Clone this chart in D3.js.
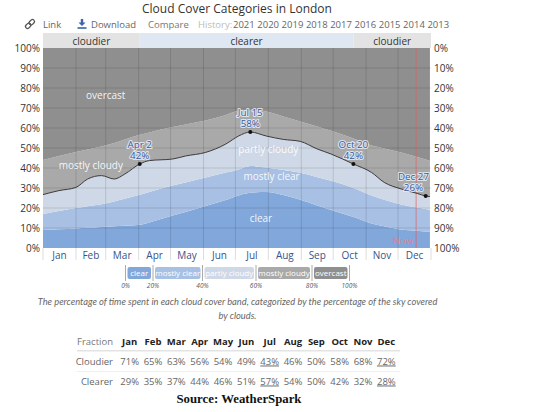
<!DOCTYPE html>
<html>
<head>
<meta charset="utf-8">
<script src="https://cdn.jsdelivr.net/npm/d3@7"></script>
<style>
  html, body { margin: 0; padding: 0; background: #fff; }
  svg { display: block; font-family: "Open Sans", "Noto Sans", sans-serif; }
</style>
</head>
<body>
<svg id="chart" width="540" height="412"></svg>
<script>
// ---------------- DATA ----------------
const months = ["Jan","Feb","Mar","Apr","May","Jun","Jul","Aug","Sep","Oct","Nov","Dec"];
const historyYears = ["2021","2020","2019","2018","2017","2016","2015","2014","2013"];
const yTicks = [0,10,20,30,40,50,60,70,80,90,100];

// sample dates for band boundaries (cumulative % from the bottom)
const sampleDates = ["2021-01-01","2021-01-16","2021-02-01","2021-02-12","2021-02-25","2021-03-09","2021-03-19",
  "2021-04-02","2021-04-11","2021-05-03","2021-05-15","2021-06-03","2021-06-22","2021-07-04","2021-07-15",
  "2021-07-30","2021-08-15","2021-08-31","2021-09-16","2021-09-29","2021-10-20","2021-11-06","2021-11-18",
  "2021-12-04","2021-12-19","2021-12-27","2021-12-31"];
const clearTop = [9,9.4,9.8,10.1,10.5,10.9,11.1,11.6,12.8,16.3,18,21,24,26.3,27.6,28,26.5,24.1,21.2,19,15.5,12.3,10.9,9.2,8.6,8.2,8];
const mostlyClearTop = [17,18.5,20,20.9,21.9,23.3,24.6,26.6,28,31.2,32.8,35.3,37.7,39.3,41,40.2,39,37.6,35.4,33.6,30,26.2,24.1,21.8,20.2,19.5,19];
const partlyCloudyTop = [26.7,28.7,30.3,34.5,36.2,34.5,37,42,43.7,44.5,46,47.8,52,56,58,56,54.3,53.3,49.5,47,42,37.8,32.8,29.5,27.3,26,25.7];
const mostlyCloudyTop = [44,46,48,49.3,50.8,52.5,54.2,56.6,57.8,60.5,61.7,63.7,66.5,68.6,69,68.2,65.8,63.2,60.8,58.6,54.7,51.3,49.8,47.7,45.5,44.2,43.5];

const bandNames = ["clear","mostly clear","partly cloudy","mostly cloudy","overcast"];
const legendTicks = ["0%","20%","40%","60%","80%","100%"];

const annotDates = ["2021-04-02","2021-07-15","2021-10-20","2021-12-27"];
const annotLabels = ["Apr 2","Jul 15","Oct 20","Dec 27"];
const annotValues = [42,58,42,26];

const seasonLabels = ["cloudier","clearer","cloudier"];
const seasonStarts = ["2021-01-01","2021-04-02","2021-10-20"];
const seasonEnds = ["2021-04-02","2021-10-20","2022-01-01"];

const nowDate = "2021-12-18";

const tableRows = ["Cloudier","Clearer"];
const cloudierPct = [71,65,63,56,54,49,43,46,50,58,68,72];
const clearerPct = [29,35,37,44,46,51,57,54,50,42,32,28];

// ---------------- STYLES ----------------
const bandColors = ["#82a7db","#a7c0e4","#cfd8e6","#a9a9a9","#8f8f8f"];
const seasonColors = {"cloudier":"#e3e3e3","clearer":"#dfe7f2"};

// ---------------- DRAW ----------------
const svg = d3.select("#chart");
const parse = d3.timeParse("%Y-%m-%d");
const plot = {left:43, right:431, top:48, bottom:248};

const x = d3.scaleTime().domain([parse("2021-01-01"), parse("2022-01-01")]).range([plot.left, plot.right]);
const y = d3.scaleLinear().domain([0,100]).range([plot.bottom, plot.top]);

// Title
svg.append("text").attr("x",237).attr("y",13).attr("text-anchor","middle")
  .attr("font-size",12).attr("font-weight",500).attr("fill","#333").text("Cloud Cover Categories in London");

// Toolbar
const tb = svg.append("g").attr("font-size",9.5);
const li = tb.append("g").attr("transform","translate(30,24) rotate(-45)").attr("fill","none").attr("stroke","#555").attr("stroke-width",1.3);
li.append("rect").attr("x",-5.5).attr("y",-2).attr("width",6).attr("height",4).attr("rx",2);
li.append("rect").attr("x",-0.5).attr("y",-2).attr("width",6).attr("height",4).attr("rx",2);
tb.append("text").attr("x",43).attr("y",28).attr("fill","#666").text("Link");
const di = tb.append("g").attr("transform","translate(82,24)").attr("fill","#3d63a8");
di.append("path").attr("d","M-1.2,-5 h2.4 v3.5 h2.3 l-3.5,3.6 l-3.5,-3.6 h2.3 z");
di.append("rect").attr("x",-4.5).attr("y",3.2).attr("width",9).attr("height",1.6);
tb.append("text").attr("x",91).attr("y",28).attr("fill","#666").text("Download");
tb.append("text").attr("x",148).attr("y",28).attr("fill","#777").text("Compare");
tb.append("text").attr("x",198).attr("y",28).attr("fill","#bbb").text("History:");
const yb = d3.scaleBand().domain(historyYears).range([233, 233 + 24.3*historyYears.length]);
tb.selectAll("text.yr").data(historyYears).join("text").attr("class","yr")
  .attr("x", d => yb(d)).attr("y",28).attr("fill","#666").text(d => d);

// Season header band
const seasons = seasonLabels.map((l,i) => ({label:l, from:parse(seasonStarts[i]), to:parse(seasonEnds[i])}));
svg.selectAll("rect.season").data(seasons).join("rect").attr("class","season")
  .attr("x", d => x(d.from)).attr("width", d => x(d.to) - x(d.from))
  .attr("y", 33).attr("height", plot.top - 33)
  .attr("fill", d => seasonColors[d.label]);
svg.selectAll("text.season").data(seasons).join("text").attr("class","season")
  .attr("x", d => (x(d.from) + x(d.to))/2).attr("y", 44.5)
  .attr("text-anchor","middle").attr("font-size",10).attr("fill","#333").text(d => d.label);

// Bands
const rows = sampleDates.map((d,i) => ({
  date: parse(d),
  b: [0, clearTop[i], mostlyClearTop[i], partlyCloudyTop[i], mostlyCloudyTop[i], 100]
}));
const curve = d3.curveMonotoneX;
bandNames.forEach((name, k) => {
  const area = d3.area().curve(curve)
    .x(d => x(d.date)).y0(d => y(d.b[k])).y1(d => y(d.b[k+1]));
  svg.append("path").datum(rows).attr("d", area).attr("fill", bandColors[k]);
});

// Grid lines
svg.append("g").selectAll("line").data(yTicks.slice(1,-1)).join("line")
  .attr("x1", plot.left).attr("x2", plot.right)
  .attr("y1", d => y(d)).attr("y2", d => y(d))
  .attr("stroke","#000").attr("stroke-opacity",0.12).attr("stroke-width",1);
const monthStarts = d3.timeMonth.range(parse("2021-01-01"), parse("2022-01-02"));
svg.append("g").selectAll("line").data(monthStarts.slice(1,-1)).join("line")
  .attr("x1", d => x(d)).attr("x2", d => x(d))
  .attr("y1", plot.top).attr("y2", plot.bottom)
  .attr("stroke","#000").attr("stroke-opacity",0.12);
svg.append("g").selectAll("line").data(monthStarts).join("line")
  .attr("x1", d => x(d)).attr("x2", d => x(d))
  .attr("y1", plot.bottom).attr("y2", plot.bottom + 12)
  .attr("stroke","#ddd");

// Band labels
const bandLabelPos = [
  {t:"overcast", d:"2021-03-01", v:74.5},
  {t:"mostly cloudy", d:"2021-02-15", v:39.5},
  {t:"partly cloudy", d:"2021-08-01", v:47.5},
  {t:"mostly clear", d:"2021-08-04", v:34},
  {t:"clear", d:"2021-07-25", v:13}
];
svg.selectAll("text.band").data(bandLabelPos).join("text").attr("class","band")
  .attr("x", d => x(parse(d.d))).attr("y", d => y(d.v))
  .attr("text-anchor","middle").attr("font-size",10).attr("fill","#fff").attr("fill-opacity",0.92)
  .text(d => d.t);

// Now line
svg.append("line").attr("x1", x(parse(nowDate))).attr("x2", x(parse(nowDate)))
  .attr("y1", plot.top).attr("y2", plot.bottom)
  .attr("stroke","#e06060").attr("stroke-opacity",0.7).attr("stroke-width",1);
svg.append("text").attr("x", x(parse(nowDate)) - 3).attr("y", 243.5).attr("text-anchor","end")
  .attr("font-size",9.5).attr("fill","#e0809a").text("Now");

// Clearer line
const line = d3.line().curve(curve).x(d => x(d.date)).y(d => y(d.b[3]));
svg.append("path").datum(rows).attr("d", line).attr("fill","none")
  .attr("stroke","#3a3a3a").attr("stroke-width",1);

// Annotations
const annots = annotDates.map((d,i) => ({date:parse(d), label:annotLabels[i], v:annotValues[i]}));
svg.selectAll("circle.ann").data(annots).join("circle").attr("class","ann")
  .attr("cx", d => x(d.date)).attr("cy", d => y(d.v)).attr("r",2).attr("fill","#111");
const ag = svg.selectAll("g.ann").data(annots).join("g").attr("class","ann");
ag.each(function(d){
  const g = d3.select(this);
  const t1 = g.append("text").attr("y", y(d.v) - 16.5).text(d.label);
  const t2 = g.append("text").attr("y", y(d.v) - 5).text(d.v + "%");
  g.selectAll("text").attr("text-anchor","middle").attr("font-size",9.8)
    .attr("fill","#3a5a9e").attr("stroke","#e8eef8").attr("stroke-width",2.2)
    .attr("stroke-opacity",0.85).attr("paint-order","stroke").attr("stroke-linejoin","round");
  const w = Math.max(t1.node().getComputedTextLength(), t2.node().getComputedTextLength());
  let cx = x(d.date);
  cx = Math.min(cx, plot.right - w/2 - 2);
  g.selectAll("text").attr("x", cx);
});

// Axis labels
svg.append("g").selectAll("text").data(yTicks).join("text")
  .attr("x", 40).attr("y", d => y(d) + 3.5).attr("text-anchor","end")
  .attr("font-size",10).attr("fill","#333").text(d => d + "%");
svg.append("g").selectAll("text").data(yTicks).join("text")
  .attr("x", 434).attr("y", d => y(d) + 3.5).attr("text-anchor","start")
  .attr("font-size",10).attr("fill","#333").text(d => (100 - d) + "%");

// Month labels
svg.append("g").selectAll("text").data(months).join("text")
  .attr("x", (d,i) => (x(monthStarts[i]) + x(monthStarts[i+1]))/2)
  .attr("y", 259).attr("text-anchor","middle").attr("font-size",10)
  .attr("fill","#38538c").text(d => d);

// Legend
const legSeps = [125.5, 153, 202.5, 256, 312, 349.5];
const lg = svg.append("g");
lg.selectAll("line").data(legSeps).join("line")
  .attr("x1", d => d).attr("x2", d => d).attr("y1", 265).attr("y2", 281)
  .attr("stroke","#aaa").attr("stroke-width",1);
lg.selectAll("rect").data(bandNames).join("rect")
  .attr("x", (d,i) => legSeps[i] + 2).attr("width", (d,i) => legSeps[i+1] - legSeps[i] - 4)
  .attr("y", 267).attr("height", 12).attr("rx", 2)
  .attr("fill", (d,i) => bandColors[i]);
lg.selectAll("text.lt").data(bandNames).join("text").attr("class","lt")
  .attr("x", (d,i) => (legSeps[i] + legSeps[i+1])/2).attr("y", 276)
  .attr("text-anchor","middle").attr("font-size",8).attr("fill","#fff").text(d => d);
lg.selectAll("text.lp").data(legendTicks).join("text").attr("class","lp")
  .attr("x", (d,i) => legSeps[i]).attr("y", 287.5)
  .attr("text-anchor","middle").attr("font-size",6.5).attr("font-style","italic")
  .attr("fill","#555").text(d => d);

// Caption
const cap = svg.append("g").style("font-family","Lato, sans-serif").attr("font-style","italic")
  .attr("font-size",9.3).attr("fill","#666").attr("text-anchor","middle");
cap.append("text").attr("x",237.5).attr("y",304.5)
  .text("The percentage of time spent in each cloud cover band, categorized by the percentage of the sky covered");
cap.append("text").attr("x",237.5).attr("y",319).text("by clouds.");

// Table
const tx = d3.scaleBand().domain(months).range([118, 398]);
const tg = svg.append("g").attr("font-size",9.5);
tg.append("line").attr("x1",77).attr("x2",400).attr("y1",350.7).attr("y2",350.7).attr("stroke","#e3e3e3").attr("stroke-width",1.5);
tg.append("line").attr("x1",77).attr("x2",400).attr("y1",371.5).attr("y2",371.5).attr("stroke","#eee").attr("stroke-width",1);
tg.append("text").attr("x",113).attr("y",344.5).attr("text-anchor","end").attr("fill","#777").text("Fraction");
tg.selectAll("text.mh").data(months).join("text").attr("class","mh")
  .attr("x", d => tx(d) + tx.bandwidth()/2).attr("y",344.5).attr("text-anchor","middle")
  .attr("font-weight","bold").attr("fill","#222").text(d => d);
[cloudierPct, clearerPct].forEach((vals, r) => {
  const yy = 364.5 + r*20;
  tg.append("text").attr("x",113).attr("y",yy).attr("text-anchor","end").attr("fill","#666").text(tableRows[r]);
  tg.selectAll("text.v"+r).data(vals).join("text").attr("class","v"+r)
    .attr("x", (d,i) => tx(months[i]) + tx.bandwidth()/2).attr("y", yy).attr("text-anchor","middle")
    .attr("fill","#666")
    .attr("text-decoration", (d,i) => (i === 6 || i === 11) ? "underline" : null)
    .text(d => d + "%");
});

// Source
svg.append("text").attr("x",239).attr("y",403).attr("text-anchor","middle")
  .style("font-family","'Liberation Serif', 'Times New Roman', serif").attr("font-weight","bold")
  .attr("font-size",12.8).attr("fill","#111").text("Source: WeatherSpark");
</script>
</body>
</html>
